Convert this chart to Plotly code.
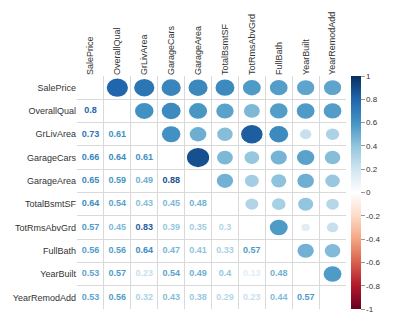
import numpy as np
import plotly.graph_objects as go
from plotly.colors import sample_colorscale

labels = ["SalePrice", "OverallQual", "GrLivArea", "GarageCars", "GarageArea",
          "TotalBsmtSF", "TotRmsAbvGrd", "FullBath", "YearBuilt", "YearRemodAdd"]

# lower-triangle correlations, row by row
lower_rows = [
    [],
    [0.8],
    [0.73, 0.61],
    [0.66, 0.64, 0.61],
    [0.65, 0.59, 0.49, 0.88],
    [0.64, 0.54, 0.43, 0.45, 0.48],
    [0.57, 0.45, 0.83, 0.39, 0.35, 0.3],
    [0.56, 0.56, 0.64, 0.47, 0.41, 0.33, 0.57],
    [0.53, 0.57, 0.23, 0.54, 0.49, 0.4, 0.13, 0.48],
    [0.53, 0.56, 0.32, 0.43, 0.38, 0.29, 0.23, 0.44, 0.57],
]

colorscale = [
    [0.0, "#67001F"], [0.1, "#B2182B"], [0.2, "#D6604D"], [0.3, "#F4A582"],
    [0.4, "#FDDBC7"], [0.5, "#FFFFFF"], [0.6, "#D1E5F0"], [0.7, "#92C5DE"],
    [0.8, "#4393C3"], [0.9, "#2166AC"], [1.0, "#053061"],
]

n = len(labels)

def col(v):
    return sample_colorscale(colorscale, [(v + 1) / 2])[0]

fig = go.Figure()
shapes = []
tx, ty, tt, tc = [], [], [], []
for i, row in enumerate(lower_rows):
    for j, v in enumerate(row):
        # lower triangle: text at (col j, row i)
        tx.append(j); ty.append(i); tt.append(f"{v:g}"); tc.append(col(v))
        # upper triangle: ellipse at (col i, row j)
        r = 0.44 * np.sqrt(abs(v))
        c = col(v)
        shapes.append(dict(type="circle", xref="x", yref="y",
                           x0=i - r, x1=i + r, y0=j - r, y1=j + r,
                           fillcolor=c, line=dict(width=0), layer="above"))

fig.add_trace(go.Scatter(
    x=tx, y=ty, text=tt, mode="text",
    textfont=dict(family="Liberation Sans, Arial", size=9, color=tc, weight="bold"),
    hoverinfo="skip", showlegend=False))

# colorbar carrier
fig.add_trace(go.Scatter(
    x=[None], y=[None], mode="markers",
    marker=dict(color=[0], cmin=-1, cmax=1, colorscale=colorscale, showscale=True,
                colorbar=dict(thickness=10, len=1.0, lenmode="fraction", y=0.5,
                              yanchor="middle", x=1.018, xanchor="left", xpad=0, ypad=0,
                              outlinewidth=0, ticks="outside", ticklen=4,
                              tickcolor="#999", tickwidth=1,
                              tickvals=[-1, -0.8, -0.6, -0.4, -0.2, 0, 0.2, 0.4, 0.6, 0.8, 1],
                              ticktext=["-1", "-0.8", "-0.6", "-0.4", "-0.2", "0", "0.2", "0.4", "0.6", "0.8", "1"],
                              tickfont=dict(size=8, color="#333"))),
    hoverinfo="skip", showlegend=False))

half = [k - 0.5 for k in range(n + 1)]
fig.update_layout(
    width=393, height=327,
    margin=dict(l=77, r=41, t=70, b=18),
    paper_bgcolor="white", plot_bgcolor="white",
    font=dict(family="Liberation Sans, Arial", size=9, color="#333"),
    shapes=shapes,
    xaxis=dict(range=[-0.5, n - 0.5], side="top", tickvals=list(range(n)), ticktext=labels,
               tickangle=-90, showgrid=False, zeroline=False, showline=False, ticks="",
               tickfont=dict(size=9, color="#333"),
               minor=dict(tickvals=half, showgrid=True, gridcolor="#d9d9d9", gridwidth=1)),
    yaxis=dict(range=[n - 0.5, -0.5], tickvals=list(range(n)), ticktext=labels,
               showgrid=False, zeroline=False, showline=False, ticks="",
               tickfont=dict(size=9, color="#333"),
               minor=dict(tickvals=half, showgrid=True, gridcolor="#d9d9d9", gridwidth=1)),
)

fig.write_html("out.html")
